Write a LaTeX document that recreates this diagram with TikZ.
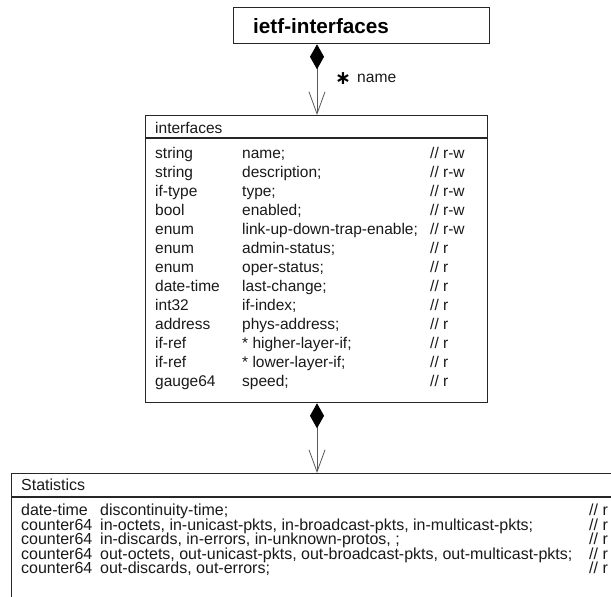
\documentclass[tikz,border=0pt]{standalone}
\usepackage{fontspec}
\setmainfont{Liberation Sans}
\newfontfamily\djv{DejaVu Sans}
\usetikzlibrary{arrows.meta}
\begin{document}
\begin{tikzpicture}[x=1pt,y=-1pt,
  box/.style={draw=black!85, line width=1.3pt, anchor=north west, inner sep=0pt, rectangle},
  sep/.style={draw=black!85, line width=1.3pt},
  txt/.style={anchor=base west, inner sep=0pt, font=\fontsize{15.5}{18}\selectfont, text=black!90},
  stxt/.style={txt, font=\fontsize{16}{18}\selectfont},
  assoc/.style={draw=black!65, line width=0.8pt,
    arrows={Diamond[length=25pt,width=14pt,black]-Straight Barb[length=22pt,width=16pt,black!65]}}]
\useasboundingbox (0,0) rectangle (611,597);
\clip (0,0) rectangle (611,597);
\coordinate (ax) at (317,0);
% top box
\node[box, minimum width=256pt, minimum height=36pt] (top) at (233,7) {};
\node[anchor=base west, inner sep=0pt, font=\bfseries\fontsize{20.7}{24}\selectfont] (title) at (253,33) {ietf-interfaces};
% interfaces box
\node[box, minimum width=342pt, minimum height=287pt] (iface) at (145,115) {};
\draw[sep] ([yshift=-23pt]iface.north west) -- ([yshift=-23pt]iface.north east);
\node[txt] (ifttl) at (155,133) {interfaces};
\foreach \t/\n/\c [count=\i from 0] in {
  string/name;/r-w,
  string/description;/r-w,
  if-type/type;/r-w,
  bool/enabled;/r-w,
  enum/link-up-down-trap-enable;/r-w,
  enum/admin-status;/r,
  enum/oper-status;/r,
  date-time/last-change;/r,
  int32/if-index;/r,
  address/phys-address;/r,
  if-ref/* higher-layer-if;/r,
  if-ref/* lower-layer-if;/r,
  gauge64/speed;/r}{
  \node[txt] (it\i) at (155,158+19*\i) {\t};
  \node[txt] (in\i) at (242,158+19*\i) {\n};
  \node[txt] (ic\i) at (430,158+19*\i) {// \c};
}
% statistics box
\node[box, minimum width=620pt, minimum height=150pt] (stats) at (11,473) {};
\draw[sep] ([yshift=-24pt]stats.north west) -- ([yshift=-24pt]stats.north east);
\node[stxt] (stttl) at (21,490.5) {Statistics};
\node[stxt] (st0) at (21,515.5) {date-time};
\node[stxt] (sn0) at (100,515.5) {discontinuity-time;};
\node[stxt] (sc0) at (589,515.5) {// r};
\node[stxt] (st1) at (21,530) {counter64};
\node[stxt] (sn1) at (100,530) {in-octets, in-unicast-pkts, in-broadcast-pkts, in-multicast-pkts;};
\node[stxt] (sc1) at (589,530) {// r};
\node[stxt] (st2) at (21,544.5) {counter64};
\node[stxt] (sn2) at (100,544.5) {in-discards, in-errors, in-unknown-protos, ;};
\node[stxt] (sc2) at (589,544.5) {// r};
\node[stxt] (st3) at (21,559) {counter64};
\node[stxt] (sn3) at (100,559) {out-octets, out-unicast-pkts, out-broadcast-pkts, out-multicast-pkts;};
\node[stxt] (sc3) at (589,559) {// r};
\node[stxt] (st4) at (21,573.5) {counter64};
\node[stxt] (sn4) at (100,573.5) {out-discards, out-errors;};
\node[stxt] (sc4) at (589,573.5) {// r};
% connectors
\draw[assoc] (top.south -| ax) -- (iface.north -| ax);
\draw[assoc] (iface.south -| ax) -- (stats.north -| ax);
\node[anchor=center, inner sep=0pt, font=\djv\bfseries\fontsize{19}{19}\selectfont] (star) at (343,79) {∗};
\node[txt, font=\fontsize{15.6}{18}\selectfont] (lbl) at (357,82) {name};
\end{tikzpicture}
\end{document}
